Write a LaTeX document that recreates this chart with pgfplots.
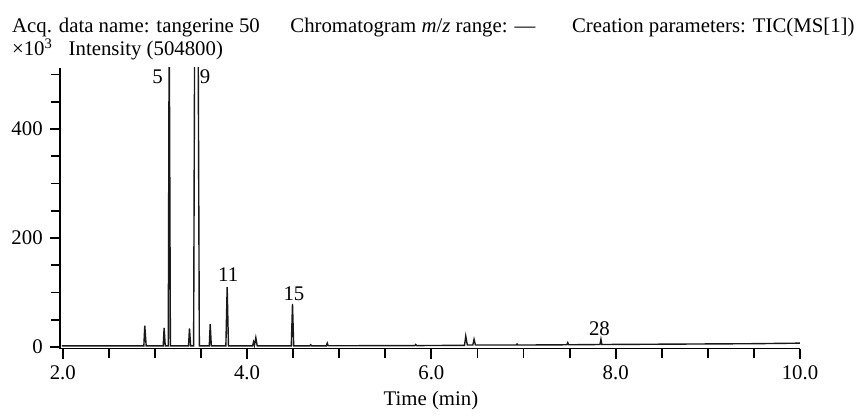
\documentclass[border=0pt]{standalone}
\usepackage{fontspec}
\setmainfont{Liberation Serif}
\usepackage{pgfplots}
\pgfplotsset{compat=1.18}

\begin{document}
\fontsize{10.4}{12.5}\selectfont
\begin{tikzpicture}
\useasboundingbox (-30pt,-33.7pt) rectangle (399.5pt,174.3pt);
\begin{axis}[
  at={(0,0)}, anchor=south west,
  scale only axis,
  width=370pt, height=140.3pt,
  xmin=1.97, xmax=10.0,
  ymin=-3, ymax=512,
  axis lines=left,
  axis line style={-, line width=0.8pt},
  tick align=outside,
  major tick length=5pt,
  minor tick length=4.5pt,
  every tick/.style={black, line width=0.9pt},
  xtick={2,4,6,8,10},
  xticklabels={2.0,4.0,6.0,8.0,10.0},
  minor xtick={2.5,3,3.5,4.5,5,5.5,6.5,7,7.5,8.5,9,9.5},
  ytick={0,200,400},
  minor ytick={50,100,150,250,300,350,450,500},
  /pgf/number format/assume math mode=true,
  clip=true,
]
% TIC trace, intensity in units of 10^3
\addplot[black!90, line width=0.7pt] coordinates {
  (1.99,2) (2.88,2) (2.89,39) (2.905,2) (3.09,2) (3.10,35) (3.112,2)
  (3.145,2) (3.155,620) (3.168,2) (3.365,2) (3.375,34) (3.388,2)
  (3.42,2) (3.432,620) (3.468,620) (3.482,2) (3.59,2) (3.60,42) (3.612,2)
  (3.77,2) (3.784,110) (3.798,2) (4.06,2) (4.07,9) (4.08,3) (4.095,17) (4.11,2)
  (4.48,2) (4.493,79) (4.506,2) (4.68,2) (4.69,4) (4.70,2) (4.86,2) (4.87,7) (4.88,2.2)
  (5.82,2.5) (5.83,4.5) (5.84,2.5) (6.36,3) (6.373,20) (6.39,3.5) (6.45,3.5)
  (6.463,14) (6.478,3.5) (6.92,3.5) (6.93,5.5) (6.94,3.5) (7.47,4) (7.48,8) (7.49,4)
  (7.83,4.5) (7.84,14) (7.85,4.5) (9.5,6) (10.0,7)
};
\node[anchor=base east, inner sep=0] at (axis cs:3.09,484) {5};
\node[anchor=base west, inner sep=0] at (axis cs:3.484,484) {9};
\node[anchor=base, inner sep=0] at (axis cs:3.795,120) {11};
\node[anchor=base, inner sep=0] at (axis cs:4.509,84.4) {15};
\node[anchor=base, inner sep=0] at (axis cs:7.824,20.2) {28};
\end{axis}
\node[anchor=base west, inner sep=0] at (-24.15pt,157.8pt) {Acq. data name: tangerine 50};
\node[anchor=base west, inner sep=0] at (115pt,157.8pt) {Chromatogram \textit{m}/\textit{z} range: —};
\node[anchor=base west, inner sep=0] at (255.85pt,157.8pt) {Creation parameters: TIC(MS[1])};
\node[anchor=base west, inner sep=0] at (-24.15pt,146.3pt) {×10\textsuperscript{3}};
\node[anchor=base west, inner sep=0] at (4.15pt,146.3pt) {Intensity (504800)};
\node[anchor=base, inner sep=0] at (185.5pt,-28.7pt) {Time (min)};
\end{tikzpicture}
\end{document}
